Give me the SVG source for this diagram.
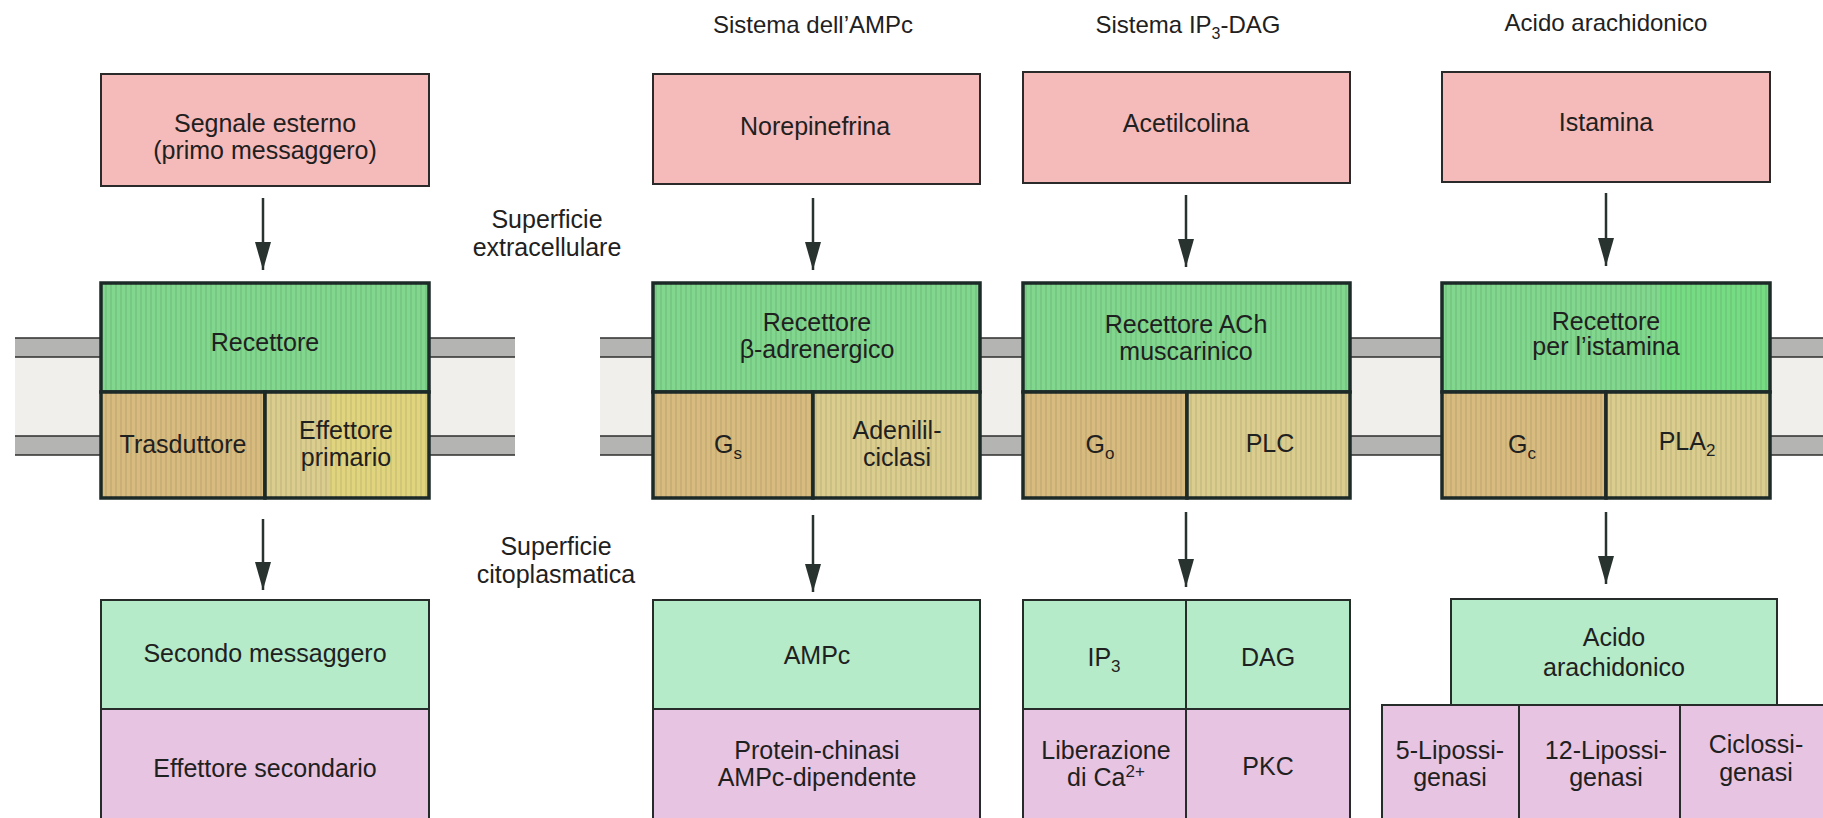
<svg xmlns="http://www.w3.org/2000/svg" width="1823" height="818" viewBox="0 0 1823 818">
<defs>
<pattern id="stripes" width="5" height="10" patternUnits="userSpaceOnUse">
<rect x="0" y="0" width="2" height="10" fill="#000" fill-opacity="0.07"/>
</pattern>
<marker id="ah" viewBox="0 0 28 16" refX="28" refY="8" markerWidth="28" markerHeight="16" markerUnits="userSpaceOnUse" orient="auto">
<path d="M0,0 L28,8 L0,16 z" fill="#28322f"/>
</marker>
<style>
.t{font-family:"Liberation Sans",Arial,Helvetica,sans-serif;font-size:25px;fill:#1f2121;text-anchor:middle}
.h{font-size:24px}
.sig{fill:#f5baba;stroke:#2a2a2a;stroke-width:2}
.rec{fill:#80d78d;stroke:#1c2a28;stroke-width:3.5}
.tr{fill:#d8bb7f;stroke:#1c2a28;stroke-width:3.5}
.ef{fill:#dacd8e;stroke:#1c2a28;stroke-width:3.5}
.sm{fill:#b5ebc9;stroke:#262c2a;stroke-width:2}
.se{fill:#e7c4e2;stroke:#262c2a;stroke-width:2}
.str{fill:url(#stripes);stroke:none}
.gb{fill:#b4b4b2}
.lm{fill:#f0efec}
.ml{stroke:#2e2e2e;stroke-width:1.6}
.ar{stroke:#28322f;stroke-width:2.5;fill:none;marker-end:url(#ah)}
</style>
</defs>
<rect width="1823" height="818" fill="#ffffff"/>

<g id="membrane">
<rect class="gb" x="15" y="338" width="86" height="19"/><rect class="lm" x="15" y="357" width="86" height="79"/><rect class="gb" x="15" y="436" width="86" height="19"/>
<rect class="gb" x="429" y="338" width="86" height="19"/><rect class="lm" x="429" y="357" width="86" height="79"/><rect class="gb" x="429" y="436" width="86" height="19"/>
<rect class="gb" x="600" y="338" width="53" height="19"/><rect class="lm" x="600" y="357" width="53" height="79"/><rect class="gb" x="600" y="436" width="53" height="19"/>
<rect class="gb" x="980" y="338" width="43" height="19"/><rect class="lm" x="980" y="357" width="43" height="79"/><rect class="gb" x="980" y="436" width="43" height="19"/>
<rect class="gb" x="1350" y="338" width="92" height="19"/><rect class="lm" x="1350" y="357" width="92" height="79"/><rect class="gb" x="1350" y="436" width="92" height="19"/>
<rect class="gb" x="1770" y="338" width="53" height="19"/><rect class="lm" x="1770" y="357" width="53" height="79"/><rect class="gb" x="1770" y="436" width="53" height="19"/>
<path class="ml" d="M15,338H101M15,357H101M15,436H101M15,455H101 M429,338H515M429,357H515M429,436H515M429,455H515 M600,338H653M600,357H653M600,436H653M600,455H653 M980,338H1023M980,357H1023M980,436H1023M980,455H1023 M1350,338H1442M1350,357H1442M1350,436H1442M1350,455H1442 M1770,338H1823M1770,357H1823M1770,436H1823M1770,455H1823"/>
</g>

<g id="labels">
<text class="t" x="547" y="228">Superficie</text>
<text class="t" x="547" y="256">extracellulare</text>
<text class="t" x="556" y="555">Superficie</text>
<text class="t" x="556" y="583">citoplasmatica</text>
<text class="t h" x="813" y="33">Sistema dell’AMPc</text>
<text class="t h" x="1188" y="33">Sistema IP<tspan font-size="16" dy="6">3</tspan><tspan dy="-6">-DAG</tspan></text>
<text class="t h" x="1606" y="31">Acido arachidonico</text>
</g>

<g id="connectors">
<line class="ar" x1="263" y1="198" x2="263" y2="270"/>
<line class="ar" x1="263" y1="519" x2="263" y2="590"/>
<line class="ar" x1="813" y1="198" x2="813" y2="270"/>
<line class="ar" x1="813" y1="515" x2="813" y2="592"/>
<line class="ar" x1="1186" y1="195" x2="1186" y2="267"/>
<line class="ar" x1="1186" y1="512" x2="1186" y2="587"/>
<line class="ar" x1="1606" y1="193" x2="1606" y2="266"/>
<line class="ar" x1="1606" y1="512" x2="1606" y2="584"/>
</g>

<!-- Column 0: general scheme -->
<g id="segnale">
<rect class="sig" x="101" y="74" width="328" height="112"/>
<text class="t" x="265" y="132">Segnale esterno</text>
<text class="t" x="265" y="159">(primo messaggero)</text>
</g>
<g id="recettore">
<rect class="rec" x="101" y="283" width="328" height="109"/><rect class="str" x="101" y="283" width="328" height="109"/>
<text class="t" x="265" y="351">Recettore</text>
</g>
<g id="trasduttore">
<rect class="tr" x="101" y="392" width="164" height="106"/><rect class="str" x="101" y="392" width="164" height="106"/>
<text class="t" x="183" y="453">Trasduttore</text>
</g>
<g id="effettore-primario">
<rect class="ef" x="265" y="392" width="164" height="106"/>
<rect x="330" y="394" width="97" height="102" fill="#e6d874" fill-opacity="0.6"/>
<rect class="str" x="265" y="392" width="164" height="106"/>
<text class="t" x="346" y="439">Effettore</text>
<text class="t" x="346" y="466">primario</text>
</g>
<g id="secondo-messaggero">
<rect class="sm" x="101" y="600" width="328" height="109"/>
<text class="t" x="265" y="662">Secondo messaggero</text>
</g>
<g id="effettore-secondario">
<rect class="se" x="101" y="709" width="328" height="112"/>
<text class="t" x="265" y="777">Effettore secondario</text>
</g>

<!-- Column 1: AMPc -->
<g id="norepinefrina">
<rect class="sig" x="653" y="74" width="327" height="110"/>
<text class="t" x="815" y="135">Norepinefrina</text>
</g>
<g id="recettore-beta">
<rect class="rec" x="653" y="283" width="327" height="109"/><rect class="str" x="653" y="283" width="327" height="109"/>
<text class="t" x="817" y="331">Recettore</text>
<text class="t" x="817" y="358">β-adrenergico</text>
</g>
<g id="gs">
<rect class="tr" x="653" y="392" width="160" height="106"/><rect class="str" x="653" y="392" width="160" height="106"/>
<text class="t" x="728" y="453">G<tspan font-size="17" dy="6">s</tspan></text>
</g>
<g id="adenililciclasi">
<rect class="ef" x="813" y="392" width="167" height="106"/><rect class="str" x="813" y="392" width="167" height="106"/>
<text class="t" x="897" y="439">Adenilil-</text>
<text class="t" x="897" y="466">ciclasi</text>
</g>
<g id="ampc">
<rect class="sm" x="653" y="600" width="327" height="109"/>
<text class="t" x="817" y="664">AMPc</text>
</g>
<g id="pka">
<rect class="se" x="653" y="709" width="327" height="112"/>
<text class="t" x="817" y="759">Protein-chinasi</text>
<text class="t" x="817" y="786">AMPc-dipendente</text>
</g>

<!-- Column 2: IP3-DAG -->
<g id="acetilcolina">
<rect class="sig" x="1023" y="72" width="327" height="111"/>
<text class="t" x="1186" y="132">Acetilcolina</text>
</g>
<g id="recettore-ach">
<rect class="rec" x="1023" y="283" width="327" height="109"/><rect class="str" x="1023" y="283" width="327" height="109"/>
<text class="t" x="1186" y="333">Recettore ACh</text>
<text class="t" x="1186" y="360">muscarinico</text>
</g>
<g id="go">
<rect class="tr" x="1023" y="392" width="164" height="106"/><rect class="str" x="1023" y="392" width="164" height="106"/>
<text class="t" x="1100" y="453">G<tspan font-size="17" dy="6">o</tspan></text>
</g>
<g id="plc">
<rect class="ef" x="1187" y="392" width="163" height="106"/><rect class="str" x="1187" y="392" width="163" height="106"/>
<text class="t" x="1270" y="452">PLC</text>
</g>
<g id="ip3">
<rect class="sm" x="1023" y="600" width="163" height="109"/>
<text class="t" x="1104" y="666">IP<tspan font-size="17" dy="6">3</tspan></text>
</g>
<g id="dag">
<rect class="sm" x="1186" y="600" width="164" height="109"/>
<text class="t" x="1268" y="666">DAG</text>
</g>
<g id="ca">
<rect class="se" x="1023" y="709" width="163" height="112"/>
<text class="t" x="1106" y="759">Liberazione</text>
<text class="t" x="1106" y="786">di Ca<tspan font-size="17" dy="-9">2+</tspan></text>
</g>
<g id="pkc">
<rect class="se" x="1186" y="709" width="164" height="112"/>
<text class="t" x="1268" y="775">PKC</text>
</g>

<!-- Column 3: acido arachidonico -->
<g id="istamina">
<rect class="sig" x="1442" y="72" width="328" height="110"/>
<text class="t" x="1606" y="131">Istamina</text>
</g>
<g id="recettore-istamina">
<rect class="rec" x="1442" y="283" width="328" height="109"/>
<rect x="1660" y="285" width="108" height="105" fill="#6fe07f" fill-opacity="0.6"/>
<rect class="str" x="1442" y="283" width="328" height="109"/>
<text class="t" x="1606" y="330">Recettore</text>
<text class="t" x="1606" y="355">per l’istamina</text>
</g>
<g id="gc">
<rect class="tr" x="1442" y="392" width="164" height="106"/><rect class="str" x="1442" y="392" width="164" height="106"/>
<text class="t" x="1522" y="453">G<tspan font-size="17" dy="6">c</tspan></text>
</g>
<g id="pla2">
<rect class="ef" x="1606" y="392" width="164" height="106"/><rect class="str" x="1606" y="392" width="164" height="106"/>
<text class="t" x="1687" y="450">PLA<tspan font-size="17" dy="6">2</tspan></text>
</g>
<g id="acido-arachidonico">
<rect class="sm" x="1451" y="599" width="326" height="106"/>
<text class="t" x="1614" y="646">Acido</text>
<text class="t" x="1614" y="676">arachidonico</text>
</g>
<g id="lipossigenasi-5">
<rect class="se" x="1382" y="705" width="137" height="116"/>
<text class="t" x="1450" y="759">5-Lipossi-</text>
<text class="t" x="1450" y="786">genasi</text>
</g>
<g id="lipossigenasi-12">
<rect class="se" x="1519" y="705" width="161" height="116"/>
<text class="t" x="1606" y="759">12-Lipossi-</text>
<text class="t" x="1606" y="786">genasi</text>
</g>
<g id="ciclossigenasi">
<rect class="se" x="1680" y="705" width="146" height="116"/>
<text class="t" x="1756" y="753">Ciclossi-</text>
<text class="t" x="1756" y="781">genasi</text>
</g>
</svg>
